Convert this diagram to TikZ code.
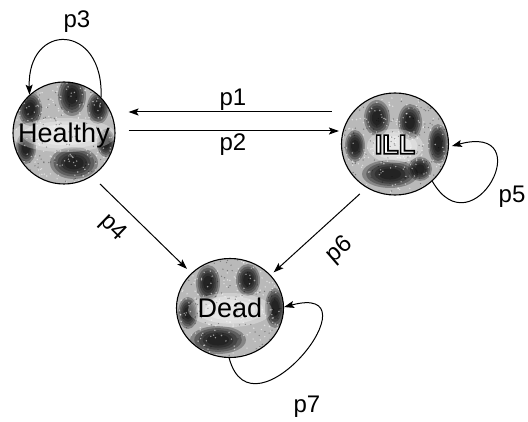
\documentclass[tikz,border=0pt]{standalone}
\usepackage{fontspec}
\setmainfont{Liberation Sans}
\usetikzlibrary{shapes.geometric,arrows.meta}
\newcommand\otxt[1]{{\color{white}\special{pdf:literal direct 2 Tr 0 G 1.6 w}#1\special{pdf:literal direct 0 Tr}}}
\newcommand\blob[4]{\foreach \s in {1,0.85,0.7,0.55,0.4}{\fill[black,fill opacity=0.28] (#1,#2) ellipse [x radius={\s*#3pt}, y radius={\s*#4pt}];}}
\newcommand\halo[4]{\foreach \s in {1,0.8,0.6}{\fill[white,fill opacity=0.3] (#1,#2) ellipse [x radius={\s*#3pt}, y radius={\s*#4pt}];}}
\newcommand\mottle[5]{%
 \begin{scope}[shift={(#1,#2)}]
 \clip (0,0) ellipse [x radius=#3pt, y radius=#4pt];
 \fill[gray!55] (-60,-60) rectangle (60,60);
 #5
 \foreach \k in {1,...,260}{\fill[white,opacity=0.55] ({rand*55},{rand*55}) circle (0.8pt);}
 \foreach \k in {1,...,160}{\fill[black,opacity=0.35] ({rand*55},{rand*55}) circle (0.7pt);}
 \end{scope}}
\begin{document}
\begin{tikzpicture}[x=1pt,y=1pt,
 state/.style={ellipse, draw, line width=1.1pt, inner sep=0pt, text height=19.5pt, text depth=0pt, font=\fontsize{27}{30}\selectfont},
 lbl/.style={font=\fontsize{24}{28}\selectfont, inner sep=0pt},
 arr/.style={line width=1pt, -{Stealth[length=10pt,width=7pt,inset=2pt]}}]
\pgfmathsetseed{11}
\useasboundingbox (0,0) rectangle (528,421);
\mottle{64}{288}{51}{51}{\blob{8}{37}{14}{20}\blob{-34}{24}{12}{17}\blob{34}{25}{11}{16}\blob{10}{-30}{24}{16}\blob{-38}{-15}{10}{16}\blob{42}{-10}{9}{14}\halo{0}{-2}{52}{17}}
\mottle{395}{277}{53.5}{51}{\blob{-18}{26}{13}{18}\blob{15}{22}{12}{18}\blob{43}{0}{10}{20}\blob{-5}{-30}{28}{14}\blob{-40}{-2}{10}{16}\blob{25}{-25}{12}{12}\halo{0}{-2}{28}{17}}
\mottle{230}{113}{53.5}{49.5}{\blob{-22}{25}{12}{18}\blob{18}{28}{12}{16}\blob{45}{0}{10}{20}\blob{-12}{-32}{28}{14}\blob{-42}{-5}{10}{16}\halo{0}{-2}{42}{17}}
\node[state, minimum width=102pt, minimum height=102pt] (H) at (64,288) {\makebox[0pt]{Healthy}};
\node[state, minimum width=107pt, minimum height=102pt] (I) at (395,277) {\makebox[0pt]{\otxt{\bfseries ILL}}};
\node[state, minimum width=107pt, minimum height=99pt] (D) at (230,113) {\makebox[0pt]{Dead}};
\draw[arr] ([shift={(-9,32)}]I.west) -- ([shift={(13,21)}]H.east);
\draw[arr] ([shift={(13,2)}]H.east) -- ([shift={(-2,13)}]I.west);
\draw[arr, shorten <=11pt, shorten >=6pt] (H.-57) -- (D.138);
\draw[arr, shorten <=9pt, shorten >=4pt] (I.237) -- (D.39);
\draw[arr] (H.44) .. controls +(88:75pt) and +(92:73pt) .. (H.132);
\draw[arr, shorten >=3pt] (I.-45) .. controls +(-60:82pt) and +(15:95pt) .. (I.-3);
\draw[arr] (D.-91) .. controls +(-75:90pt) and +(15:100pt) .. (D.1);
\node[lbl] (l1) at (233,321) {p1};
\node[lbl] (l2) at (233,276) {p2};
\node[lbl] (l3) at (77,399) {p3};
\node[lbl, rotate=-44] (l4) at (113,193) {p4};
\node[lbl] (l5) at (512,224) {p5};
\node[lbl, rotate=41] (l6) at (340,171) {p6};
\node[lbl] (l7) at (307,14) {p7};
\end{tikzpicture}
\end{document}
